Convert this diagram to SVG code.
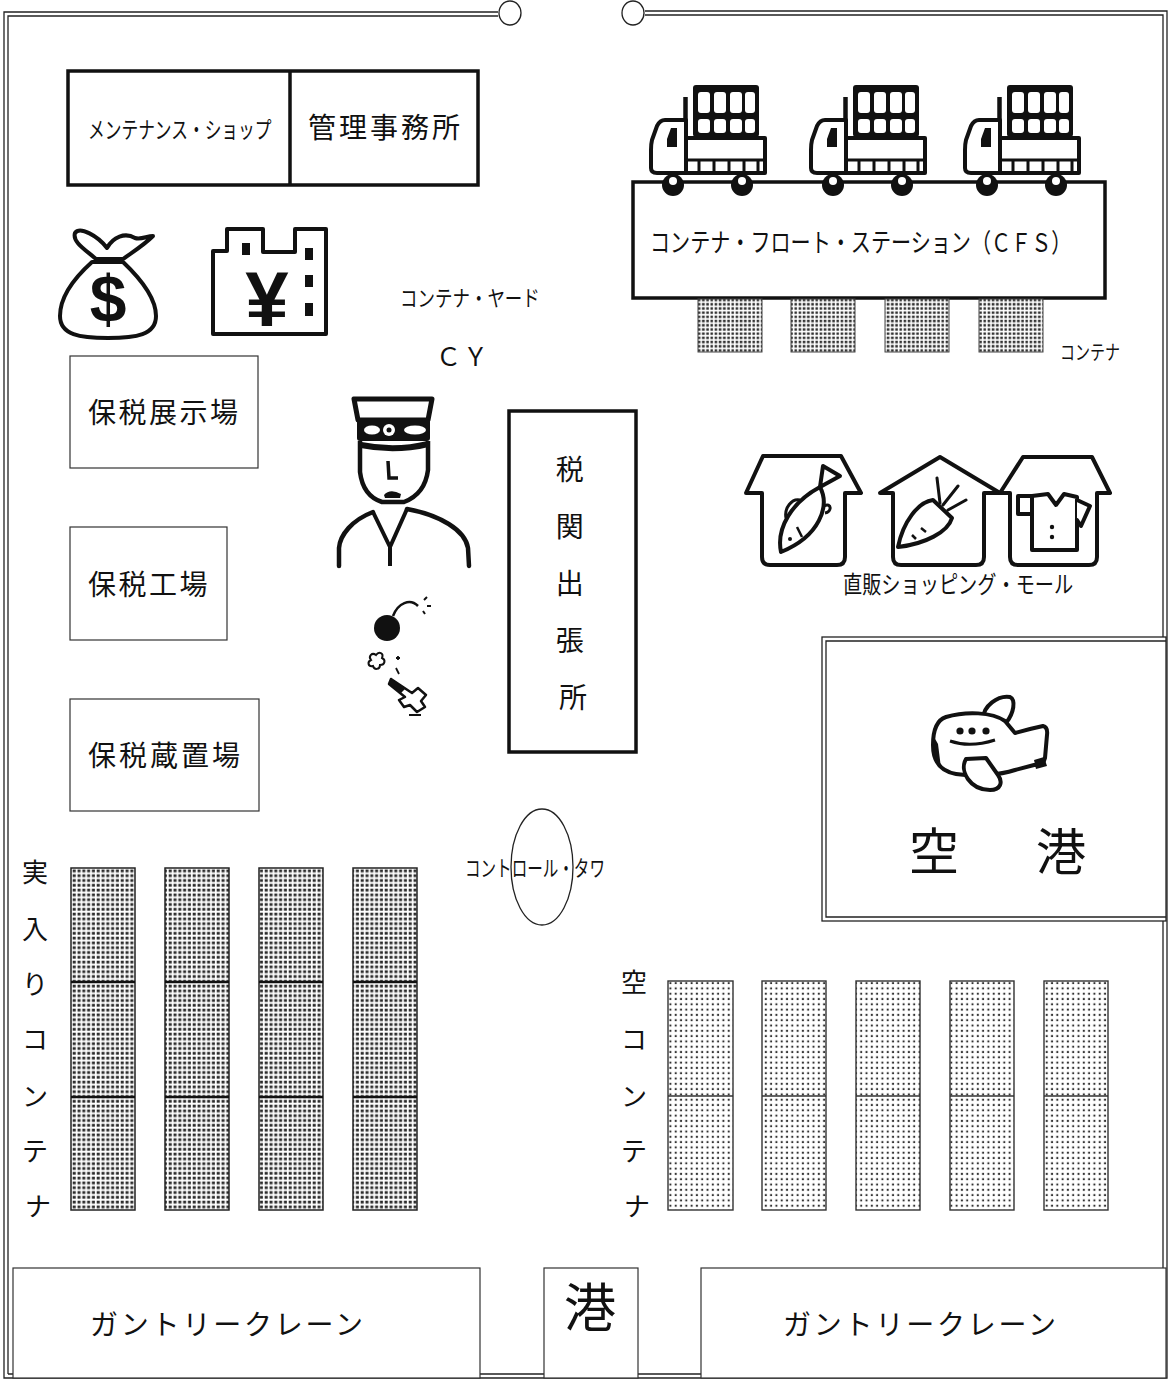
<svg xmlns="http://www.w3.org/2000/svg" width="1168" height="1380" viewBox="0 0 1168 1380">
  <style>
    .jp { font-family: "Noto Sans CJK JP", "Noto Sans", sans-serif; fill: #111; }
    .thin { fill: none; stroke: #222; stroke-width: 1.3; }
    .thick { fill: #fff; stroke: #111; stroke-width: 3.5; }
    .ico { fill: #fff; stroke: #111; stroke-width: 4; stroke-linejoin: round; stroke-linecap: round; }
    .icof { fill: #111; stroke: none; }
    .box { fill: #fff; stroke: #333; stroke-width: 1.2; }
    .dark { fill: url(#dotDark); stroke: #222; stroke-width: 1.5; }
    .light { fill: url(#dotLight); stroke: #333; stroke-width: 1.4; }
    .cfsc { fill: url(#dotCfs); stroke: #444; stroke-width: 1; }
  </style>
  <defs>
    <pattern id="dotDark" patternUnits="userSpaceOnUse" width="4.8" height="4.8">
      <rect width="4.8" height="4.8" fill="#fff"/>
      <rect x="0.7" y="0.7" width="3" height="2.8" fill="#2a2a2a"/>
    </pattern>
    <pattern id="dotLight" patternUnits="userSpaceOnUse" width="5.3" height="5.3">
      <rect width="5.3" height="5.3" fill="#fff"/>
      <rect x="1.6" y="1.6" width="2" height="2" fill="#333"/>
    </pattern>
    <pattern id="dotCfs" patternUnits="userSpaceOnUse" width="4.2" height="4.2">
      <rect width="4.2" height="4.2" fill="#fff"/>
      <rect x="0.6" y="0.6" width="2.6" height="2.5" fill="#333"/>
    </pattern>
    <!-- delivery truck with stacked cargo -->
    <symbol id="truck" overflow="visible">
      <rect x="46" y="5" width="66" height="52" rx="3" class="icof"/>
      <rect x="51" y="12" width="12" height="21" rx="3" fill="#fff"/>
      <rect x="67" y="12" width="12" height="21" rx="3" fill="#fff"/>
      <rect x="83" y="12" width="12" height="21" rx="3" fill="#fff"/>
      <rect x="98" y="12" width="10" height="21" rx="3" fill="#fff"/>
      <rect x="51" y="39" width="12" height="14" rx="3" fill="#fff"/>
      <rect x="67" y="39" width="12" height="14" rx="3" fill="#fff"/>
      <rect x="83" y="39" width="12" height="14" rx="3" fill="#fff"/>
      <rect x="98" y="39" width="10" height="14" rx="3" fill="#fff"/>
      <line x1="38.5" y1="17" x2="38.5" y2="60" stroke="#111" stroke-width="4.5"/>
      <path class="ico" d="M39,40 L18,40 Q13,40 10,46 L5,60 Q4,64 4,70 L4,88 Q4,93 10,93 L39,93 Z"/>
      <path class="icof" d="M30,48 L24,48 L20,59 L20,67 L30,67 Z"/>
      <rect x="39" y="58" width="79" height="35" class="ico"/>
      <path d="M39,80 L118,80 M52,80 V92 M67,80 V92 M82,80 V92 M97,80 V92 M111,80 V92" stroke="#111" stroke-width="3" fill="none"/>
      <circle cx="26" cy="105" r="11" class="icof"/>
      <circle cx="95" cy="105" r="11" class="icof"/>
      <circle cx="26" cy="101" r="4" fill="#fff"/>
      <circle cx="95" cy="101" r="4" fill="#fff"/>
    </symbol>
  </defs>

  <rect width="1168" height="1380" fill="#fff"/>

  <!-- site boundary: double line with gate posts -->
  <g id="boundary">
    <path class="thin" d="M498,12 L4,12 L4,1378 L1167,1378 L1167,11 L645,11"/>
    <path class="thin" d="M498,16 L8,16 L8,1374 M645,15 L1163,15 L1163,637 M1163,921 L1163,1374 L8,1374"/>
    <ellipse cx="510" cy="13" rx="11" ry="12" class="thin" fill="#fff"/>
    <ellipse cx="633" cy="13" rx="11" ry="12" class="thin" fill="#fff"/>
  </g>

  <g id="maintenance-office">
    <rect x="68" y="71" width="410" height="114" class="thick"/>
    <line x1="290" y1="71" x2="290" y2="185" stroke="#111" stroke-width="3.5"/>
    <!-- narrow katakana: horizontally condensed -->
    <text class="jp" transform="translate(88,138) scale(0.727,1)" font-size="23">メンテナンス・ショップ</text>
    <text class="jp" x="308" y="138" font-size="28" letter-spacing="3">管理事務所</text>
  </g>

  <g id="cfs">
    <rect x="633" y="182" width="472" height="116" class="thick"/>
    <use href="#truck" x="647" y="80"/>
    <use href="#truck" x="807" y="80"/>
    <use href="#truck" x="961" y="80"/>
    <text class="jp" transform="translate(650,252) scale(0.773,1)" font-size="26">コンテナ・フロート・ステーション（ＣＦＳ）</text>
  </g>

  <g id="cfs-containers">
    <rect x="698" y="299" width="64" height="53" class="cfsc"/>
    <rect x="791" y="299" width="64" height="53" class="cfsc"/>
    <rect x="885" y="299" width="64" height="53" class="cfsc"/>
    <rect x="979" y="299" width="64" height="53" class="cfsc"/>
    <text class="jp" transform="translate(1060,360) scale(0.75,1)" font-size="20">コンテナ</text>
  </g>

  <g id="money-bag">
    <path class="ico" d="M92,262 C72,280 60,298 60,316 C60,335 80,338 108,338 C136,338 156,335 156,316 C156,298 142,280 123,262 Z"/>
    <path class="ico" d="M96,259 C86,250 72,242 75,233 C80,226 98,236 107,248 C113,237 125,232 135,238 C141,240 147,236 153,236 C143,246 131,253 123,259 Z"/>
    <text x="108" y="322" font-family="Liberation Sans, Arial, sans-serif" font-size="66" font-weight="bold" text-anchor="middle" fill="#111">$</text>
  </g>

  <g id="yen-building">
    <path class="ico" d="M213,334 L213,251 L227,251 L227,229 L263,229 L263,252 L295,252 L295,229 L326,229 L326,334 Z"/>
    <rect x="242" y="243" width="8" height="12" class="icof"/>
    <rect x="305" y="248" width="8" height="12" class="icof"/>
    <rect x="305" y="275" width="8" height="12" class="icof"/>
    <rect x="305" y="303" width="8" height="13" class="icof"/>
    <text x="267" y="326" font-family="Liberation Sans, Arial, sans-serif" font-size="78" font-weight="bold" text-anchor="middle" fill="#111">¥</text>
  </g>

  <g id="container-yard">
    <text class="jp" transform="translate(400,306) scale(0.795,1)" font-size="22">コンテナ・ヤード</text>
    <text class="jp" x="436" y="366" font-size="25" letter-spacing="2">ＣＹ</text>
  </g>

  <g id="bonded-exhibition">
    <rect x="70" y="356" width="188" height="112" class="box"/>
    <text class="jp" x="88" y="423" font-size="28" letter-spacing="2.5">保税展示場</text>
  </g>
  <g id="bonded-factory">
    <rect x="70" y="527" width="157" height="113" class="box"/>
    <text class="jp" x="88" y="595" font-size="28" letter-spacing="2.5">保税工場</text>
  </g>
  <g id="bonded-warehouse">
    <rect x="70" y="699" width="189" height="112" class="box"/>
    <text class="jp" x="88" y="766" font-size="28" letter-spacing="3">保税蔵置場</text>
  </g>

  <g id="customs-officer">
    <path d="M354,399 L432,399 L428,420 L358,420 Z" fill="#fff" stroke="#111" stroke-width="5" stroke-linejoin="round"/>
    <rect x="357" y="419" width="73" height="22" rx="3" class="icof"/>
    <ellipse cx="372" cy="430" rx="8" ry="4.5" fill="#fff"/>
    <ellipse cx="415" cy="430" rx="11" ry="4.5" fill="#fff"/>
    <circle cx="389" cy="430" r="6" fill="#fff"/>
    <circle cx="389" cy="430" r="2.5" class="icof"/>
    <path d="M360,441 L360,472 Q363,496 382,502 L404,502 Q425,494 428,470 L428,441" fill="none" stroke="#111" stroke-width="4.5"/>
    <path d="M361,445 Q395,452 428,444" fill="none" stroke="#111" stroke-width="6"/>
    <path d="M388,461 L389,478 L398,478" fill="none" stroke="#111" stroke-width="3.5"/>
    <path class="icof" d="M384,495 Q390,488 401,494 L400,498 L385,498 Z"/>
    <path d="M373,512 C352,520 340,535 339,548 L339,566" fill="none" stroke="#111" stroke-width="4.5" stroke-linecap="round"/>
    <path d="M407,509 C440,515 465,530 468,548 L469,566" fill="none" stroke="#111" stroke-width="4.5" stroke-linecap="round"/>
    <path d="M373,512 L390,547 L407,509 M390,547 L390,566" fill="none" stroke="#111" stroke-width="4" stroke-linejoin="round"/>
  </g>

  <g id="contraband">
    <circle cx="387" cy="628" r="13" class="icof"/>
    <path d="M393,616 C398,603 410,598 418,606" fill="none" stroke="#111" stroke-width="2.5"/>
    <path d="M424,600 l3,-3 M427,606 l4,0 M423,611 l2,3" stroke="#111" stroke-width="2"/>
    <path d="M371,660 C368,656 372,652 376,655 C379,651 384,653 382,658 C386,660 385,665 380,665 C380,670 374,670 373,666 C368,667 367,662 371,660 Z" fill="#fff" stroke="#111" stroke-width="2"/>
    <path d="M396,658 l4,0 M398,656 l0,4 M396,668 l3,6" stroke="#111" stroke-width="1.8"/>
    <path d="M391,679 L412,693 L418,688 L426,695 L421,701 L425,707 L417,712 L410,705 L404,707 L399,700 L405,697 L389,684 Z" fill="#fff" stroke="#111" stroke-width="2.5" stroke-linejoin="round"/>
    <path class="icof" d="M391,679 L405,689 L401,693 L389,684 Z"/>
    <path d="M409,715 L421,715" stroke="#111" stroke-width="2"/>
  </g>

  <g id="customs-branch">
    <rect x="509" y="411" width="127" height="341" class="thick"/>
    <text class="jp" x="573" font-size="28" text-anchor="middle">
      <tspan x="573" y="480">税</tspan>
      <tspan x="573" y="537">関</tspan>
      <tspan x="573" y="594">出</tspan>
      <tspan x="573" y="651">張</tspan>
      <tspan x="573" y="708">所</tspan>
    </text>
  </g>

  <g id="shopping-mall">
    <path class="ico" d="M763,456 L841,456 L861,493 L845,493 L845,557 Q845,565 837,565 L770,565 Q762,565 762,557 L762,493 L746,493 Z"/>
    <path class="ico" d="M781,552 C776,528 792,502 820,487 C830,506 820,536 781,552 Z"/>
    <path class="ico" d="M820,487 L823,466 L840,476 Z"/>
    <path d="M786,518 C784,508 792,498 800,500" fill="none" stroke="#111" stroke-width="3"/>
    <path d="M824,506 C832,502 832,512 825,513" fill="none" stroke="#111" stroke-width="3"/>
    <circle cx="790" cy="539" r="2" class="icof"/>
    <path d="M797,527 L802,537" stroke="#111" stroke-width="2.5"/>

    <path class="ico" d="M940,457 L1000,493 L984,493 L984,557 Q984,565 976,565 L901,565 Q893,565 893,557 L893,493 L880,493 Z"/>
    <path class="ico" d="M898,547 C903,522 918,502 933,500 L952,518 C948,532 925,544 898,547 Z"/>
    <path d="M940,503 L937,478 M943,505 L958,486 M948,510 L966,500" stroke="#111" stroke-width="3" stroke-linecap="round"/>
    <path d="M921,528 l5,4 M912,535 l4,4" stroke="#111" stroke-width="2.5"/>

    <path class="ico" d="M1023,457 L1092,457 L1110,493 L1097,493 L1097,557 Q1097,565 1089,565 L1018,565 Q1010,565 1010,557 L1010,493 L1000,493 Z"/>
    <path class="ico" d="M1032,496 L1048,494 L1056,505 L1064,494 L1077,497 L1077,550 L1032,550 Z"/>
    <rect x="1018" y="496" width="14" height="18" class="ico"/>
    <path class="ico" d="M1077,500 L1090,506 L1081,526 L1077,520"/>
    <circle cx="1052" cy="527" r="2.2" class="icof"/>
    <circle cx="1052" cy="537" r="2.2" class="icof"/>
    <text class="jp" transform="translate(843,593) scale(0.8,1)" font-size="24">直販ショッピング・モール</text>
  </g>

  <g id="airport">
    <rect x="822" y="637" width="344" height="284" class="thin" fill="#fff"/>
    <path class="thin" d="M1166,641 L826,641 L826,917 L1166,917"/>
    <path class="ico" d="M983,719 C983,706 998,695 1010,697 C1016,700 1014,713 1006,723"/>
    <path class="ico" d="M946,717 C966,711 992,712 1005,721 L1015,733 L1030,729 L1043,726 Q1048,727 1047,735 L1045,758 Q1043,766 1034,765 L1015,770 C1000,775 975,777 956,774 C939,771 933,760 933,745 C933,730 937,720 946,717 Z"/>
    <path class="ico" d="M966,759 C959,771 970,790 990,790 C1001,790 1003,782 998,775 L986,758 Z"/>
    <path class="icof" d="M1034,760 L1044,757 L1047,766 L1036,769 Z"/>
    <path class="icof" d="M934,737 C933,750 935,762 941,768 L938,744 Z"/>
    <circle cx="960" cy="731" r="3.6" class="icof"/>
    <circle cx="972" cy="731" r="3.6" class="icof"/>
    <circle cx="986" cy="731" r="3.6" class="icof"/>
    <path d="M950,741 Q970,748 995,740" fill="none" stroke="#111" stroke-width="3"/>
    <text class="jp" x="909" y="870" font-size="50">空</text>
    <text class="jp" x="1036" y="870" font-size="50">港</text>
  </g>

  <g id="control-tower">
    <ellipse cx="542" cy="867" rx="31" ry="58" class="thin"/>
    <text class="jp" transform="translate(465,876) scale(0.707,1)" font-size="22">コントロール・タワ</text>
  </g>

  <g id="laden-containers">
    <rect x="71" y="868" width="64" height="342" class="dark"/>
    <rect x="165" y="868" width="64" height="342" class="dark"/>
    <rect x="259" y="868" width="64" height="342" class="dark"/>
    <rect x="353" y="868" width="64" height="342" class="dark"/>
    <path d="M71,982 H135 M165,982 H229 M259,982 H323 M353,982 H417 M71,1097 H135 M165,1097 H229 M259,1097 H323 M353,1097 H417" stroke="#111" stroke-width="2.5"/>
    <text class="jp" font-size="26" text-anchor="middle">
      <tspan x="38" y="882">実</tspan>
      <tspan x="38" y="939">入</tspan>
      <tspan x="38" y="994">り</tspan>
      <tspan x="38" y="1049">コ</tspan>
      <tspan x="38" y="1106">ン</tspan>
      <tspan x="38" y="1161">テ</tspan>
      <tspan x="38" y="1216">ナ</tspan>
    </text>
  </g>

  <g id="empty-containers">
    <rect x="668" y="981" width="65" height="229" class="light"/>
    <rect x="762" y="981" width="64" height="229" class="light"/>
    <rect x="856" y="981" width="64" height="229" class="light"/>
    <rect x="950" y="981" width="64" height="229" class="light"/>
    <rect x="1044" y="981" width="64" height="229" class="light"/>
    <path d="M668,1096 H733 M762,1096 H826 M856,1096 H920 M950,1096 H1014 M1044,1096 H1108" stroke="#333" stroke-width="1.5"/>
    <text class="jp" font-size="26" text-anchor="middle">
      <tspan x="637" y="992">空</tspan>
      <tspan x="637" y="1049">コ</tspan>
      <tspan x="637" y="1106">ン</tspan>
      <tspan x="637" y="1161">テ</tspan>
      <tspan x="637" y="1216">ナ</tspan>
    </text>
  </g>

  <g id="gantry-crane-left">
    <rect x="13" y="1268" width="467" height="110" class="box"/>
    <text class="jp" x="90" y="1335" font-size="28" letter-spacing="2.8">ガントリークレーン</text>
  </g>
  <g id="port">
    <rect x="544" y="1268" width="94" height="110" class="box"/>
    <text class="jp" x="590" y="1327" font-size="52" text-anchor="middle">港</text>
  </g>
  <g id="gantry-crane-right">
    <rect x="701" y="1268" width="465" height="110" class="box"/>
    <text class="jp" x="783" y="1335" font-size="28" letter-spacing="2.8">ガントリークレーン</text>
  </g>
</svg>
